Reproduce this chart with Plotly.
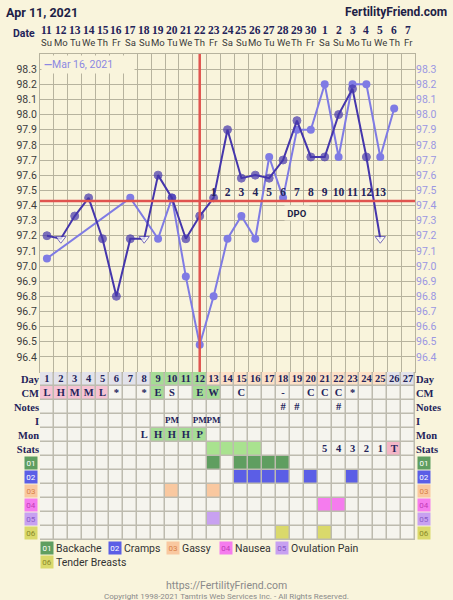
import plotly.graph_objects as go

W, H = 453, 600

# ---------------- data ----------------
title_left = "Apr 11, 2021"
title_right = "FertilityFriend.com"
prev_cycle_name = "Mar 16, 2021"

days = list(range(1, 28))
dates = ["11", "12", "13", "14", "15", "16", "17", "18", "19", "20", "21", "22", "23",
         "24", "25", "26", "27", "28", "29", "30", "1", "2", "3", "4", "5", "6", "7"]
weekdays = ["Su", "Mo", "Tu", "We", "Th", "Fr", "Sa", "Su", "Mo", "Tu", "We", "Th", "Fr", "Sa",
            "Su", "Mo", "Tu", "We", "Th", "Fr", "Sa", "Su", "Mo", "Tu", "We", "Th", "Fr"]

temps_current = [97.20, 97.18, 97.33, 97.45, 97.18, 96.80, 97.18, 97.18, 97.60, 97.45,
                 97.18, 97.33, 97.45, 97.90, 97.58, 97.60, 97.58, 97.70, 97.96, 97.72,
                 97.72, 98.00, 98.17, 97.72, 97.18, None, None]
open_days_current = [2, 8, 25]

temps_prev = [97.05, None, None, None, None, None, 97.45, None, 97.18, 97.45,
              96.93, 96.48, 96.80, 97.18, 97.33, 97.18, 97.72, 97.45, 97.90, 97.90,
              98.20, 97.72, 98.20, 98.20, 97.72, 98.04, None]

coverline = 97.43
ovulation_day = 12
dpo_days = list(range(13, 26))
dpo_labels = [str(i) for i in range(1, 14)]

temp_ticks = [96.4, 96.5, 96.6, 96.7, 96.8, 96.9, 97.0, 97.1, 97.2, 97.3,
              97.4, 97.5, 97.6, 97.7, 97.8, 97.9, 98.0, 98.1, 98.2, 98.3]

row_names = ["Day", "CM", "Notes", "I", "Mon", "Stats"]
symptom_codes = ["01", "02", "03", "04", "05", "06"]
symptom_names = ["Backache", "Cramps", "Gassy", "Nausea", "Ovulation Pain", "Tender Breasts"]

cm_text = ["L", "H", "M", "M", "L", "*", "", "*", "E", "S", "", "E", "W", "", "C", "", "",
           "-", "", "C", "C", "C", "*", "", "", "", ""]
notes_text = [""] * 17 + ["#", "#", "", "", "#", "", "", "", "", ""]
i_text = [""] * 9 + ["PM", "", "PM", "PM"] + [""] * 14
mon_text = [""] * 7 + ["L", "H", "H", "H", "P"] + [""] * 15
stats_text = [""] * 20 + ["5", "4", "3", "2", "1", "T", ""]

day_colors = ["gray"] * 8 + ["green"] * 4 + ["peach"] * 13 + ["gray"] * 2
cm_colors = ["pink"] * 5 + ["cell"] * 3 + ["green"] + ["cell"] * 2 + ["green", "green"] + ["cell"] * 14
notes_colors = ["cell"] * 27
i_colors = ["cell"] * 27
mon_colors = ["cell"] * 8 + ["green"] * 4 + ["cell"] * 15
stats_colors = ["cell"] * 12 + ["lightgreen"] * 4 + ["cell"] * 9 + ["tpink"] + ["cell"]

symptom_days = [
    [13, 15, 16, 17, 18],        # Backache
    [15, 16, 17, 18, 20, 23],    # Cramps
    [10, 13],                    # Gassy
    [21, 22],                    # Nausea
    [13],                        # Ovulation Pain
    [18, 21],                    # Tender Breasts
]

# ---------------- styles ----------------
BG = "#F9F4DC"
GRID = "#B7B39E"
DARK = "#4536AC"
LIGHT = "#7F7BE4"
RED = "#E0544F"
NAVY = "#23235A"
SERIF = "Liberation Serif"
SANS = "Roboto"

palette = {
    "cell": "#F5F4EE", "gray": "#E2E2EA", "green": "#A6DC96", "peach": "#FCE0C6",
    "pink": "#F6C3D3", "lightgreen": "#A9E28F", "tpink": "#F4B6C7",
    "s01": "#5F9E60", "s02": "#5B5EE6", "s03": "#F9C8A0", "s04": "#F57CEE",
    "s05": "#C8A1F1", "s06": "#DAD96B",
}
sym_text_col = ["#FFFFFF", "#FFFFFF", "#D9824A", "#C23CB8", "#8A5CC8", "#8A8A2A"]
keys = list(palette.keys())
n = len(keys)
colorscale = []
for i, k in enumerate(keys):
    colorscale.append([i / n, palette[k]])
    colorscale.append([(i + 1) / n, palette[k]])

def px_x(p):
    return p / W

def px_y(p):
    return 1 - p / H

# ---------------- table matrices ----------------
color_rows = [day_colors, cm_colors, notes_colors, i_colors, mon_colors, stats_colors]
for j, sd in enumerate(symptom_days):
    color_rows.append([("s0%d" % (j + 1)) if d in sd else "cell" for d in days])
zc = [[keys.index(c) + 0.5 for c in row] for row in color_rows]

text_rows = [[str(d) for d in days], cm_text, notes_text, i_text, mon_text, stats_text]
tx, ty, tt, ts = [], [], [], []
for r, row in enumerate(text_rows):
    for d, t in zip(days, row):
        if t:
            tx.append(d)
            ty.append(r)
            tt.append("<b>%s</b>" % t)
            ts.append(9 if len(t) > 1 and r != 0 else 10.5)

fig = go.Figure()

# ---------------- chart ----------------
fig.add_trace(go.Scatter(
    x=days, y=temps_prev, mode="lines+markers", connectgaps=True,
    line=dict(color=LIGHT, width=2), marker=dict(color=LIGHT, size=8),
    xaxis="x", yaxis="y", showlegend=False, hoverinfo="skip"))

cur_sym = ["triangle-down" if d in open_days_current else "circle" for d in days]
cur_col = ["#FFFFFF" if d in open_days_current else DARK for d in days]
cur_size = [9 if d in open_days_current else 8 for d in days]
fig.add_trace(go.Scatter(
    x=days, y=temps_current, mode="lines+markers",
    line=dict(color=DARK, width=2),
    marker=dict(color=cur_col, symbol=cur_sym, size=cur_size, line=dict(color=DARK, width=1)),
    xaxis="x", yaxis="y", showlegend=False, hoverinfo="skip"))

fig.add_trace(go.Scatter(
    x=dpo_days, y=[97.48] * len(dpo_days), mode="text", text=["<b>%s</b>" % s for s in dpo_labels],
    textfont=dict(family=SERIF, size=11.5, color=NAVY),
    xaxis="x", yaxis="y3", showlegend=False, hoverinfo="skip"))

# ---------------- table ----------------
fig.add_trace(go.Heatmap(
    x=days, y=list(range(12)), z=zc, colorscale=colorscale, zmin=0, zmax=n,
    showscale=False, xgap=1.5, ygap=1.5, hoverinfo="skip",
    xaxis="x2", yaxis="y2"))

fig.add_trace(go.Scatter(
    x=tx, y=ty, mode="text", text=tt,
    textfont=dict(family=SERIF, size=ts, color=NAVY),
    xaxis="x2", yaxis="y4", showlegend=False, hoverinfo="skip"))

chart_dom = [px_y(372), px_y(54)]
table_dom = [px_y(540), px_y(372)]
xdom = [px_x(40), px_x(415)]

fig.update_layout(
    width=W, height=H, margin=dict(l=0, r=0, t=0, b=0, autoexpand=False),
    paper_bgcolor=BG, plot_bgcolor=BG, showlegend=False,
    xaxis=dict(domain=xdom, range=[0.5, 27.5], tick0=0.5, dtick=1, showgrid=True,
               gridcolor=GRID, gridwidth=1, showticklabels=False, zeroline=False,
               showline=True, mirror=True, linecolor=GRID, anchor="y", automargin=False),
    yaxis=dict(domain=chart_dom, range=[96.3, 98.4], tickvals=temp_ticks,
               ticktext=["%.1f" % v for v in temp_ticks], showgrid=True, gridcolor=GRID,
               zeroline=False, showline=True, mirror=True, linecolor=GRID, automargin=False,
               tickfont=dict(family=SANS, size=10.5, color="#3C3C3C"), anchor="x"),
    yaxis3=dict(overlaying="y", side="right", range=[96.3, 98.4], tickvals=temp_ticks,
                ticktext=["%.1f" % v for v in temp_ticks], showgrid=False, zeroline=False,
                automargin=False,
                tickfont=dict(family=SANS, size=10.5, color="#9B97E2"), anchor="x"),
    xaxis2=dict(domain=xdom, range=[0.5, 27.5], showgrid=False, showticklabels=False,
                zeroline=False, anchor="y2", automargin=False),
    yaxis2=dict(domain=table_dom, range=[11.5, -0.5], tickvals=list(range(6)),
                ticktext=row_names, showgrid=False, zeroline=False, automargin=False,
                tickfont=dict(family=SERIF, size=10.5, color=NAVY, weight="bold"), anchor="x2"),
    yaxis4=dict(overlaying="y2", side="right", range=[11.5, -0.5], tickvals=list(range(6)),
                ticktext=row_names, showgrid=False, zeroline=False, automargin=False,
                tickfont=dict(family=SERIF, size=10.5, color=NAVY, weight="bold"), anchor="x2"),
)

# table grid backing
fig.add_shape(type="rect", xref="x2 domain", yref="y2 domain", x0=0, x1=1, y0=0, y1=1,
              fillcolor="#BDBBAF", line=dict(width=0), layer="below")

# red lines
fig.add_shape(type="line", xref="x domain", yref="y", x0=0, x1=1, y0=coverline, y1=coverline,
              line=dict(color=RED, width=2.5))
fig.add_shape(type="line", xref="x", yref="y domain", x0=ovulation_day, x1=ovulation_day, y0=0, y1=1,
              line=dict(color=RED, width=2.5))

ann = []
# titles
ann.append(dict(x=px_x(4), y=px_y(12), xref="paper", yref="paper", xanchor="left", yanchor="middle",
                text="<b>%s</b>" % title_left, showarrow=False,
                font=dict(family=SANS, size=12.5, color="#1E1E46")))
ann.append(dict(x=px_x(449), y=px_y(12), xref="paper", yref="paper", xanchor="right", yanchor="middle",
                text="<b>%s</b>" % title_right, showarrow=False,
                font=dict(family=SANS, size=12, color="#1E1E46")))
ann.append(dict(x=px_x(37), y=px_y(33), xref="paper", yref="paper", xanchor="right", yanchor="middle",
                text="<b>Date</b>", showarrow=False, font=dict(family=SANS, size=10.5, color=NAVY)))
for d, dt, wd in zip(days, dates, weekdays):
    ann.append(dict(x=d, y=px_y(30.5), xref="x", yref="paper", yanchor="middle",
                    text="<b>%s</b>" % dt, showarrow=False,
                    font=dict(family=SERIF, size=11.5, color=NAVY)))
    ann.append(dict(x=d, y=px_y(42.5), xref="x", yref="paper", yanchor="middle",
                    text=wd, showarrow=False, font=dict(family=SANS, size=9.5, color="#3A3A3A")))

# previous cycle legend box
ann.append(dict(x=px_x(41), y=px_y(54.5), xref="paper", yref="paper", xanchor="left", yanchor="top",
                text="<b>—</b>%s" % prev_cycle_name, showarrow=False, align="left",
                bgcolor=BG, width=88, height=13, borderpad=2,
                font=dict(family=SANS, size=10.5, color="#8C88E2")))

# DPO label
ann.append(dict(x=19, y=97.35, xref="x", yref="y", text="<b>DPO</b>", showarrow=False,
                bgcolor=BG, width=22, height=12, borderpad=1,
                font=dict(family=SANS, size=9.5, color="#1E1E46")))

# symptom code boxes beside the table
for j, code in enumerate(symptom_codes):
    col = palette["s0%d" % (j + 1)]
    for xp, xa in ((px_x(38), "right"), (px_x(417), "left")):
        ann.append(dict(x=xp, y=6 + j, xref="paper", yref="y2", xanchor=xa, yanchor="middle",
                        text=code, showarrow=False, bgcolor=col, width=11, height=11, borderpad=0.5,
                        font=dict(family=SANS, size=8, color=sym_text_col[j])))

# legend below table
leg_pos = [(40, 548), (108, 548), (166, 548), (219, 548), (275, 548), (40, 562)]
for j, (code, name) in enumerate(zip(symptom_codes, symptom_names)):
    lx, ly = leg_pos[j]
    ann.append(dict(x=px_x(lx), y=px_y(ly), xref="paper", yref="paper", xanchor="left", yanchor="middle",
                    text=code, showarrow=False, bgcolor=palette["s0%d" % (j + 1)],
                    width=11, height=11, borderpad=0.5,
                    font=dict(family=SANS, size=8, color=sym_text_col[j])))
    ann.append(dict(x=px_x(lx + 14), y=px_y(ly), xref="paper", yref="paper", xanchor="left",
                    yanchor="middle", text=name, showarrow=False,
                    font=dict(family=SANS, size=10.5, color="#333333")))

# footer
ann.append(dict(x=0.5, y=px_y(585.5), xref="paper", yref="paper", yanchor="middle",
                text="https://FertilityFriend.com", showarrow=False,
                font=dict(family=SANS, size=10.5, color="#8A8A8A")))
ann.append(dict(x=0.5, y=px_y(596), xref="paper", yref="paper", yanchor="middle",
                text="Copyright 1998-2021 Tamtris Web Services Inc. - All Rights Reserved.",
                showarrow=False, font=dict(family=SANS, size=8, color="#8A8A8A")))

fig.update_layout(annotations=ann)
fig.write_html("out.html", config={"displayModeBar": False},
               post_script="document.body.style.margin='0';document.body.style.overflow='hidden';")
